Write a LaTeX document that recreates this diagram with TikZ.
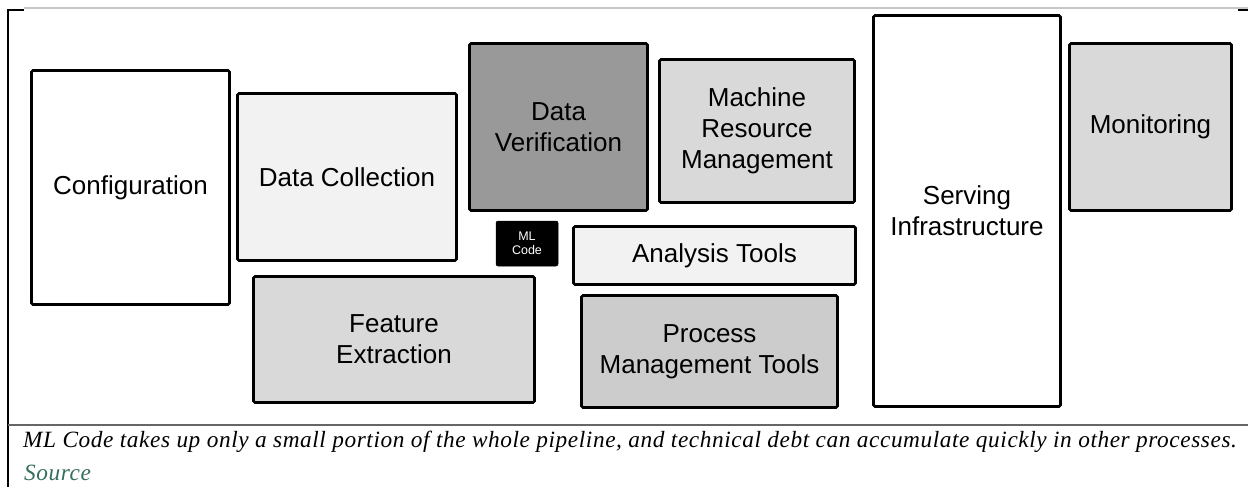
\documentclass[tikz,border=0pt]{standalone}
\usepackage{fontspec}
\setsansfont{Liberation Sans}
\newfontfamily\capfont[LetterSpace=2.5]{Liberation Serif}
\usetikzlibrary{positioning}
\definecolor{srcgreen}{RGB}{52,110,95}
\definecolor{paleg}{RGB}{242,242,242}
\definecolor{lightg}{RGB}{217,217,217}
\definecolor{midg}{RGB}{204,204,204}
\definecolor{darkg}{RGB}{153,153,153}
\tikzset{font=\sffamily\fontsize{26}{31}\selectfont}

\begin{document}
\begin{tikzpicture}[x=1pt, y=-1pt]
	\useasboundingbox (0,0) rectangle (1248,487);
	% frame and caption rule
	\draw[black!22, line width=1.2] (24,8) -- (1248,8);
	\draw[line width=1.2] (24,10) -- (8,10) -- (8,487);
	\draw[line width=1.2] (1238,10) -- (1248,10);
	\draw[black!60, line width=1.2] (8,425) -- (1248,425);
	\begin{scope}
		\tikzstyle{every node}=[align=center, inner sep=0pt, draw, line width=2.6, rounded corners=1.5]
		\node[fill=white,  minimum width=198, minimum height=234] (conf)     at (130.5, 187.5) {Configuration};
		\node[fill=paleg,  minimum width=219, minimum height=167] (collect)  at (347, 177)     {Data Collection};
		\node[fill=lightg, minimum width=281, minimum height=126] (feat)     at (394, 339.5)   {Feature\\Extraction};
		\node[fill=darkg,  minimum width=178, minimum height=167] (verif)    at (558.5, 127)   {Data\\Verification};
		\node[fill=lightg, minimum width=195, minimum height=143] (mrm)      at (757, 131)     {Machine\\Resource\\Management};
		\node[fill=black, text=white, line width=0.5, rounded corners=2,
		      minimum width=62, minimum height=45,
		      font=\sffamily\fontsize{12.5}{14}\selectfont] (mlcode)        at (527, 243.5)   {ML\\Code};
		\node[fill=paleg,  minimum width=282, minimum height=58]  (analysis) at (714.5, 255.5)  {Analysis Tools};
		\node[fill=midg,   minimum width=256, minimum height=112] (procmgmt) at (709.5, 351.5)  {Process\\Management Tools};
		\node[fill=white,  minimum width=187, minimum height=391] (serving)  at (967, 211)      {Serving\\Infrastructure};
		\node[fill=lightg, minimum width=162, minimum height=167] (monitor)  at (1150.5, 127)   {Monitoring};
	\end{scope}
	% caption
	\node[anchor=base west, inner sep=0pt, font=\capfont\itshape\fontsize{23.3}{27}\selectfont] (caption) at (23, 447)
		{ML Code takes up only a small portion of the whole pipeline, and technical debt can accumulate quickly in other processes.};
	\node[anchor=base west, inner sep=0pt, text=srcgreen, font=\capfont\itshape\fontsize{23.3}{27}\selectfont] (source) at (24, 480) {Source};
\end{tikzpicture}
\end{document}
